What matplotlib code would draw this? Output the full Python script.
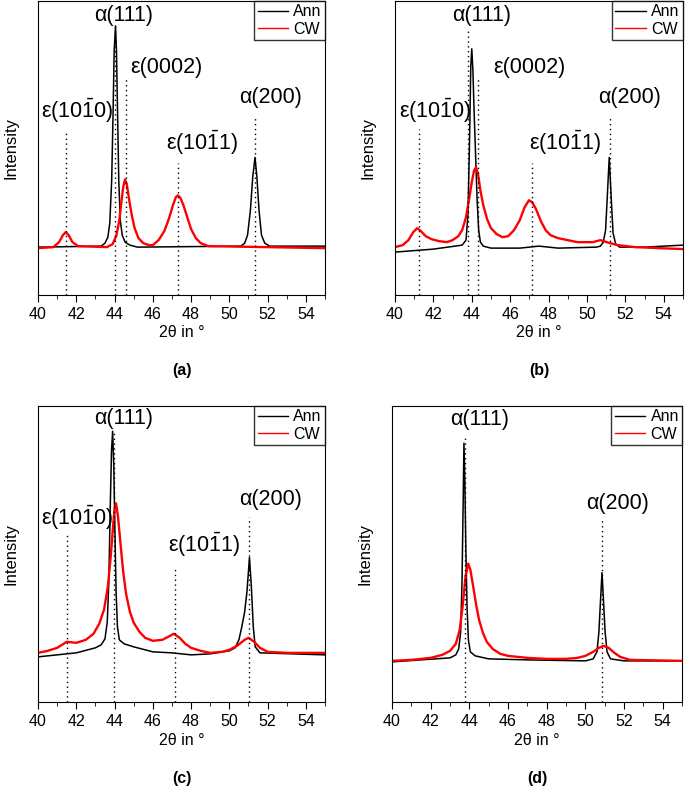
import matplotlib
matplotlib.use("Agg")
import matplotlib.pyplot as plt

plt.rcParams['font.family'] = ['Liberation Sans', 'DejaVu Sans']
plt.rcParams['mathtext.fontset'] = 'custom'
plt.rcParams['mathtext.rm'] = 'Liberation Sans'

# ---- data (intensity in arbitrary units) ----
# (a)
ann_a_x = [40, 43.3, 43.5, 43.65, 43.75, 43.85, 43.92, 43.98, 44.05, 44.1, 44.16, 44.22, 44.3, 44.4, 44.55, 44.8, 45.2,
           50.6, 50.8, 50.95, 51.1, 51.22, 51.34, 51.44, 51.55, 51.68, 51.85, 52.1, 55]
ann_a_y = [48, 49, 52, 58, 72, 115, 180, 245, 270, 245, 180, 115, 75, 60, 53, 50, 48,
           49, 52, 60, 85, 118, 138, 118, 85, 60, 52, 49, 49]
cw_a_x = [40, 40.8, 41.1, 41.3, 41.45, 41.6, 41.8, 42.1, 43.6, 43.9, 44.1, 44.25, 44.35, 44.45, 44.55, 44.65, 44.75,
          44.9, 45.05, 45.25, 45.5, 45.8, 46.0, 46.3, 46.6, 46.85, 47.05, 47.2, 47.32, 47.45, 47.6, 47.8, 48.0,
          48.25, 48.5, 48.9, 55]
cw_a_y = [47, 48, 53, 60, 63, 60, 53, 49, 48, 51, 60, 75, 92, 108, 116, 110, 97,
          80, 67, 57, 52, 50, 50, 55, 64, 77, 90, 98, 100, 97, 90, 78, 66,
          57, 52, 49, 47]

# (b)
ann_b_x = [40, 42, 43.5, 43.7, 43.8, 43.88, 43.95, 44.0, 44.06, 44.12, 44.2, 44.28, 44.36, 44.45, 44.6, 45, 46.5,
           47.5, 48.5, 50.5, 50.7, 50.85, 50.97, 51.05, 51.16, 51.27, 51.36, 51.5, 51.7, 53, 55]
ann_b_y = [43, 46, 50, 55, 80, 150, 230, 247, 225, 185, 140, 95, 65, 53, 49, 47, 47,
           49, 47, 48, 49, 53, 65, 95, 138, 95, 62, 51, 48, 48, 50]
cw_b_x = [40, 40.4, 40.7, 40.95, 41.16, 41.35, 41.6, 41.9, 42.3, 42.7, 43.0, 43.3, 43.5, 43.7, 43.85, 44.0, 44.12,
          44.22, 44.32, 44.45, 44.6, 44.8, 45.0, 45.3, 45.6, 45.9, 46.2, 46.5, 46.75, 46.98, 47.15, 47.35, 47.6,
          47.85, 48.1, 48.5, 49.0, 49.5, 50.3, 50.7, 51.2, 51.6, 52.5, 55]
cw_b_y = [48, 50, 55, 63, 67, 64, 59, 56, 54, 53, 55, 59, 65, 78, 95, 113, 125,
          128, 122, 105, 90, 76, 67, 61, 58, 59, 65, 75, 88, 95, 93, 86, 74,
          65, 60, 57, 55, 53, 53, 55, 52, 50, 48, 46]

# (c)
ann_c_x = [40, 42, 43.0, 43.3, 43.5, 43.62, 43.7, 43.77, 43.84, 43.9, 43.96, 44.02, 44.08, 44.15, 44.25, 44.5, 45,
           46, 47, 48, 49, 50, 50.3, 50.5, 50.65, 50.8, 50.92, 51.05, 51.15, 51.25, 51.35, 51.6, 55]
ann_c_y = [45, 49, 54, 57, 63, 80, 120, 190, 250, 270, 235, 170, 110, 75, 62, 58, 55,
           50, 49, 47, 48, 51, 54, 62, 75, 90, 110, 144, 115, 75, 55, 49, 47]
cw_c_x = [40, 40.5, 41, 41.5, 42, 42.5, 42.9, 43.2, 43.45, 43.65, 43.8, 43.92, 44.0, 44.08, 44.18, 44.3, 44.45,
          44.6, 44.8, 45.0, 45.3, 45.6, 46, 46.5, 46.8, 47.1, 47.4, 47.7, 48, 48.5, 49, 49.6, 50, 50.4, 50.8,
          51.0, 51.3, 51.6, 52, 53, 55]
cw_c_y = [49, 51, 54, 60, 59, 62, 68, 78, 92, 115, 145, 175, 192, 198, 185, 160, 130,
          108, 90, 79, 70, 64, 61, 62, 65, 68, 64, 58, 54, 51, 49, 50, 52, 56, 62,
          64, 60, 54, 50, 49, 49]

# (d)
ann_d_x = [40, 43.0, 43.3, 43.45, 43.55, 43.62, 43.68, 43.72, 43.77, 43.82, 43.88, 43.95, 44.05, 44.3, 45, 47, 50,
           50.4, 50.6, 50.7, 50.78, 50.86, 50.94, 51.02, 51.12, 51.3, 52, 55]
ann_d_y = [40, 44, 47, 53, 70, 120, 200, 258, 215, 150, 95, 62, 50, 46, 43, 42, 41,
           43, 50, 70, 100, 129, 100, 70, 50, 43, 41, 41]
cw_d_x = [40, 41, 42, 42.6, 43.0, 43.3, 43.5, 43.65, 43.8, 43.94, 44.05, 44.2, 44.35, 44.5, 44.7, 44.9, 45.2, 45.6,
          46, 47, 48, 49, 49.6, 50, 50.4, 50.7, 50.94, 51.2, 51.5, 51.8, 52.3, 55]
cw_d_y = [41, 42, 44, 47, 51, 58, 72, 95, 125, 138, 132, 115, 97, 82, 69, 60, 53, 48,
          46, 44, 43, 43, 44, 46, 50, 54, 56, 54, 49, 45, 42, 41]

# peak markers: (position, top of dotted line) and labels: (text, x, y)
e1010 = r'ε(10$\mathregular{\bar{1}}$0)'
e1011 = r'ε(10$\mathregular{\bar{1}}$1)'

marks_a = [(41.45, 165), (44.03, 270), (44.6, 217), (47.33, 132), (51.33, 180)]
labels_a = [('α(111)', 44.5, 280), ('ε(0002)', 46.73, 228), (e1010, 42.06, 185), (e1011, 48.6, 153), ('α(200)', 52.17, 198)]

marks_b = [(41.27, 167), (43.82, 266), (44.31, 218), (47.12, 132), (51.2, 180)]
labels_b = [('α(111)', 44.5, 280), ('ε(0002)', 47.0, 228), (e1010, 42.1, 185), (e1011, 48.85, 153), ('α(200)', 52.2, 198)]

marks_c = [(41.5, 169), (43.96, 270), (47.16, 135), (51.05, 184)]
labels_c = [('α(111)', 44.5, 283), (e1010, 42.06, 184), (e1011, 48.68, 157), ('α(200)', 52.17, 202)]

marks_d = [(43.77, 266), (50.86, 181)]
labels_d = [('α(111)', 44.51, 282), ('α(200)', 51.65, 198)]

panels = [
    ('(a)', [0.0555, 0.6252, 0.419, 0.3736], ann_a_x, ann_a_y, cw_a_x, cw_a_y, marks_a, labels_a),
    ('(b)', [0.5766, 0.6252, 0.4204, 0.3736], ann_b_x, ann_b_y, cw_b_x, cw_b_y, marks_b, labels_b),
    ('(c)', [0.0555, 0.108, 0.419, 0.376], ann_c_x, ann_c_y, cw_c_x, cw_c_y, marks_c, labels_c),
    ('(d)', [0.5723, 0.108, 0.4234, 0.376], ann_d_x, ann_d_y, cw_d_x, cw_d_y, marks_d, labels_d),
]

fig = plt.figure(figsize=(6.85, 7.87), dpi=100)

for tag, rect, ax_x, ax_y, cx, cy, marks, labels in panels:
    ax = fig.add_axes(rect)
    ax.plot(ax_x, ax_y, color='black', lw=1.1, label='Ann')
    ax.plot(cx, cy, color='#ff0000', lw=1.7, label='CW')
    for pos, top in marks:
        ax.plot([pos, pos], [0, top], color='black', lw=1.0, ls=(0, (1, 2.5)))
    for txt, lx, ly in labels:
        ax.text(lx, ly, txt, ha='center', va='center', fontsize=15.5)
    ax.set_xlim(40, 55)
    ax.set_ylim(0, 295)
    ax.set_xticks(range(40, 56, 2))
    ax.set_xticks(range(41, 56, 2), minor=True)
    ax.tick_params(axis='x', which='major', direction='out', length=5, labelsize=11.5)
    ax.tick_params(axis='x', which='minor', direction='out', length=3)
    ax.set_yticks([])
    ax.set_ylabel('Intensity', fontsize=12, labelpad=14)
    leg = ax.legend(loc='upper right', fontsize=11.5, frameon=True, fancybox=False,
                    borderaxespad=0.0, handlelength=1.9, borderpad=0.2, labelspacing=0.15,
                    handletextpad=0.35)
    leg.get_frame().set_edgecolor('black')
    leg.get_frame().set_linewidth(1.0)
    for line in leg.get_lines():
        line.set_linewidth(1.0)
    cxf = rect[0] + rect[2] / 2
    fig.text(cxf, rect[1] - 38 / 787, '2θ in °', ha='center', va='center', fontsize=11.5)
    fig.text(cxf, rect[1] - 76 / 787, tag, ha='center', va='center', fontsize=11.5, fontweight='bold')

fig.savefig('out.png', dpi=100)
